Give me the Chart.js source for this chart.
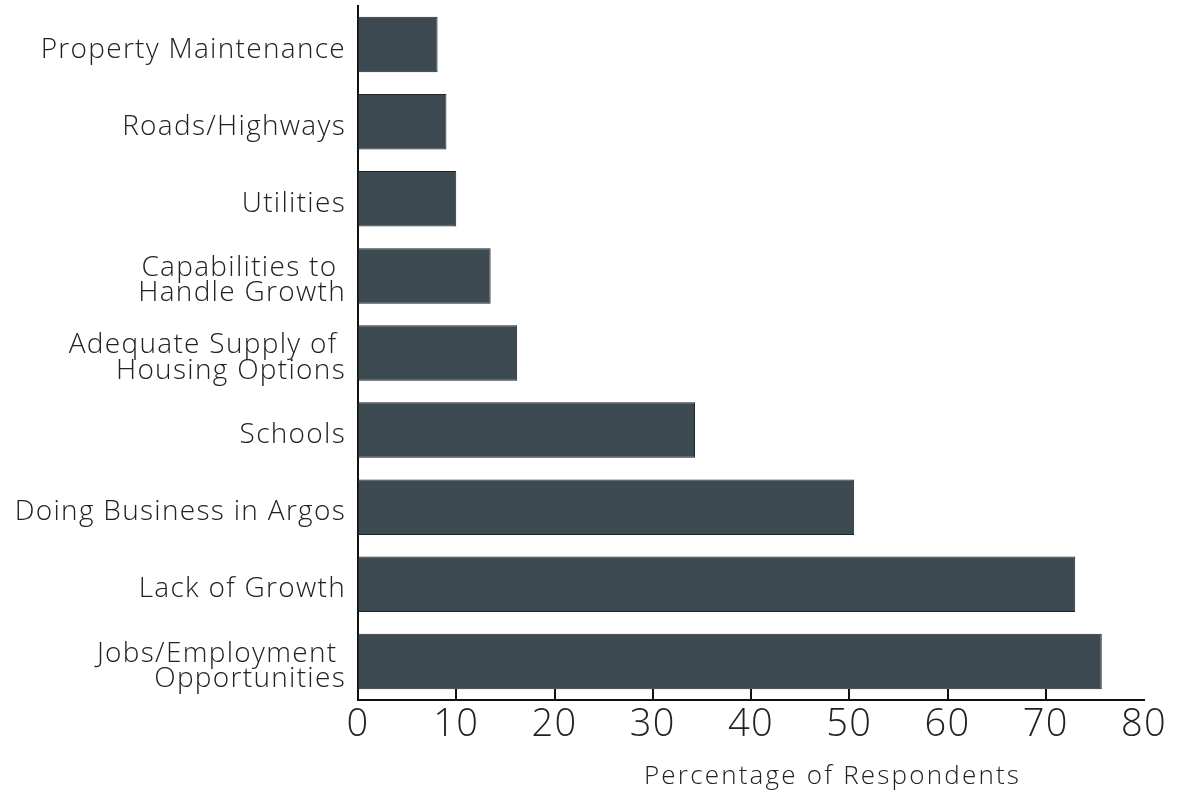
<!DOCTYPE html>
<html>
<head>
<meta charset="utf-8">
<script src="https://cdn.jsdelivr.net/npm/chart.js@4"></script>
<style>
html,body{margin:0;padding:0;background:#fff;}
#wrap{width:1182px;height:795px;position:relative;}
</style>
</head>
<body>
<div id="wrap"><canvas id="c" width="1182" height="795"></canvas></div>
<script>
const categories = [
  "Property Maintenance",
  "Roads/Highways",
  "Utilities",
  ["Capabilities to ", "Handle Growth"],
  ["Adequate Supply of ", "Housing Options"],
  "Schools",
  "Doing Business in Argos",
  "Lack of Growth",
  ["Jobs/Employment ", "Opportunities"]
];
const percentages = [8.1, 9.0, 10.0, 13.5, 16.2, 34.3, 50.5, 73.0, 75.7];
const xTicks = [0, 10, 20, 30, 40, 50, 60, 70, 80];
const xTitle = "Percentage of Respondents";

const FONT = "'Open Sans', sans-serif";
const SPACING = '1.3px';

const extras = {
  id: 'extras',
  beforeLayout(chart) { chart.ctx.letterSpacing = SPACING; },
  beforeDraw(chart) { chart.ctx.letterSpacing = SPACING; },
  beforeDatasetsDraw(chart) {
    const ctx = chart.ctx;
    const xs = chart.scales.x;
    const bottom = chart.chartArea.bottom;
    ctx.save();
    ctx.strokeStyle = '#111';
    ctx.lineWidth = 2;
    xTicks.forEach(v => {
      if (v === 0 || v === 80) return;
      const px = Math.round(xs.getPixelForValue(v));
      ctx.beginPath();
      ctx.moveTo(px, bottom);
      ctx.lineTo(px, bottom - 11);
      ctx.stroke();
    });
    ctx.restore();
  },
  afterDraw(chart) {
    const ctx = chart.ctx;
    ctx.save();
    ctx.letterSpacing = '2.2px';
    ctx.fillStyle = '#222';
    ctx.font = "300 26px " + FONT;
    ctx.textAlign = 'center';
    ctx.textBaseline = 'alphabetic';
    const xs = chart.scales.x;
    const cx = xs.getPixelForValue(48.3);
    ctx.fillText(xTitle, cx, 784);
    ctx.restore();
  }
};

new Chart(document.getElementById('c'), {
  type: 'bar',
  data: {
    labels: categories,
    datasets: [{
      data: percentages,
      backgroundColor: '#3e4a52',
      borderColor: '#1e2326',
      borderWidth: 1,
      borderSkipped: false,
      categoryPercentage: 1.0,
      barPercentage: 0.72
    }]
  },
  options: {
    indexAxis: 'y',
    responsive: false,
    animation: false,
    devicePixelRatio: 1,
    layout: { padding: { top: 6, right: 38, left: 0, bottom: 0 } },
    plugins: { legend: { display: false }, tooltip: { enabled: false } },
    scales: {
      x: {
        min: 0, max: 80,
        afterBuildTicks: s => { s.ticks = xTicks.map(v => ({ value: v })); },
        afterFit: s => { s.height = 95; s.paddingLeft = 0; s.paddingRight = 0; },
        grid: { display: false, drawTicks: false },
        border: { display: true, color: '#111', width: 2 },
        ticks: {
          color: '#222',
          padding: 2,
          font: { family: FONT, size: 38, weight: 300 }
        }
      },
      y: {
        afterFit: s => { s.width = 358; s.paddingTop = 0; s.paddingBottom = 0; },
        grid: { display: false, drawTicks: false },
        border: { display: true, color: '#111', width: 2 },
        ticks: {
          color: '#222',
          padding: 12,
          labelOffset: 5,
          font: { family: FONT, size: 28, weight: 300, lineHeight: 0.9 }
        }
      }
    }
  },
  plugins: [extras]
});
</script>
</body>
</html>
